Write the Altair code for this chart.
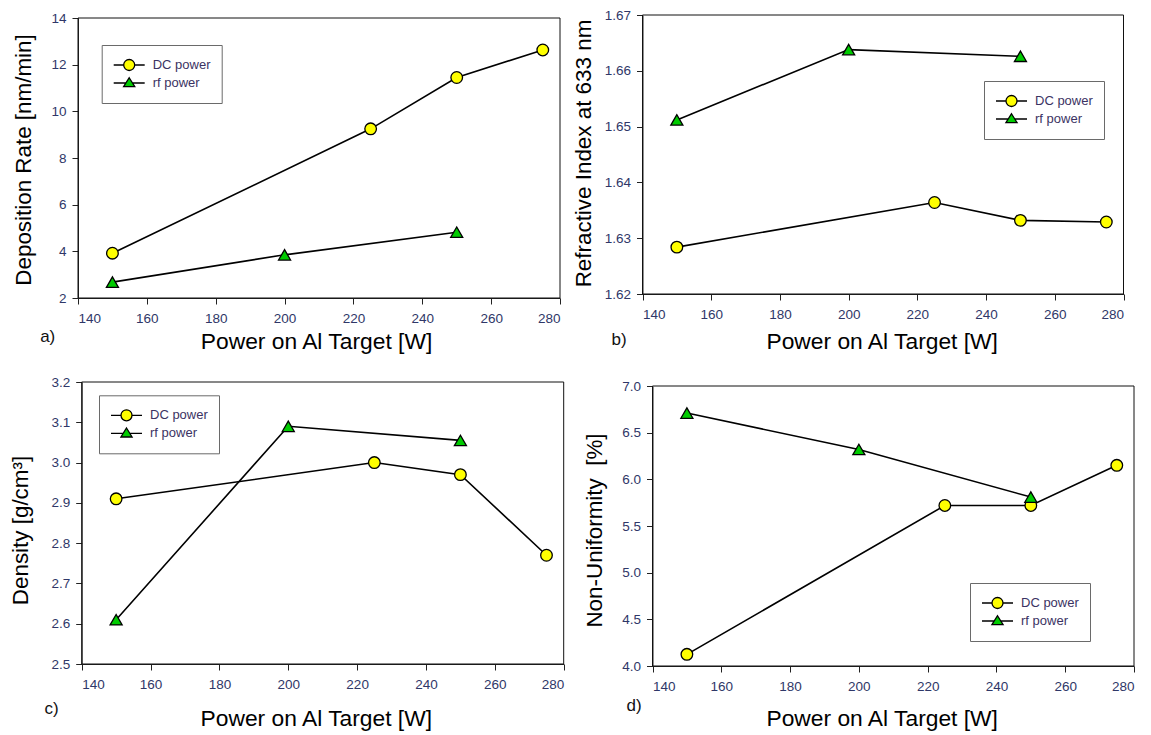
import altair as alt
import pandas as pd

FONT = "Liberation Sans"

SERIES = ["DC power", "rf power"]
POWER_DC = [150, 225, 250, 275]
POWER_RF = [150, 200, 250]
X_TICKS = [140, 160, 180, 200, 220, 240, 260, 280]
X_TITLE = "Power on Al Target [W]"

RATE_DC = [3.92, 9.25, 11.45, 12.63]
RATE_RF = [2.68, 3.85, 4.82]
RATE_TICKS = [2, 4, 6, 8, 10, 12, 14]

RI_DC = [1.6284, 1.6364, 1.6332, 1.6329]
RI_RF = [1.6512, 1.6638, 1.6626]
RI_TICKS = [1.62, 1.63, 1.64, 1.65, 1.66, 1.67]

DENS_DC = [2.91, 3.00, 2.97, 2.77]
DENS_RF = [2.61, 3.09, 3.055]
DENS_TICKS = [2.5, 2.6, 2.7, 2.8, 2.9, 3.0, 3.1, 3.2]

NU_DC = [4.125, 5.72, 5.72, 6.15]
NU_RF = [6.71, 6.32, 5.81]
NU_TICKS = [4.0, 4.5, 5.0, 5.5, 6.0, 6.5, 7.0]

# cell size of the grid (plot area is placed inside each cell)
W, H = 500, 292

# legend symbols: a line with the marker on it (units -1..1)
CIRC = "M-1,0L-0.355,0M0.355,0L1,0M-0.355,0A0.355,0.355,0,1,1,0.355,0A0.355,0.355,0,1,1,-0.355,0Z"
TRI = "M-1,0L-0.211,0M0.211,0L1,0M0,-0.34L0.36,0.24L-0.36,0.24Z"

YELLOW = "#ffff00"
GREEN = "#00cc00"
TICK_COLOR = "#2f3768"
XTITLE_SIZE = 22.8
YTITLE_SIZE = 22.4


def panel(dc, rf, yticks, yfmt, ytitle, geo, ytitle_pos, xtitle_pos, leg_pos, lab, lab_pos):
    ox, oy, w, h = geo
    df = pd.DataFrame({
        "power": POWER_DC + POWER_RF,
        "value": dc + rf,
        "series": [SERIES[0]] * len(dc) + [SERIES[1]] * len(rf),
    })
    frame_df = pd.DataFrame({
        "power": [X_TICKS[0]], "power2": [X_TICKS[-1]],
        "value": [yticks[0]], "value2": [yticks[-1]],
    })
    x = alt.X(
        "power:Q",
        scale=alt.Scale(domain=[X_TICKS[0], X_TICKS[-1]], range=[ox, ox + w], nice=False, zero=False),
        axis=alt.Axis(
            orient="bottom", offset=(oy + h) - H, values=X_TICKS, format="d", grid=False,
            domainColor="#222222", tickColor="#222222", tickSize=6, labelPadding=7,
            labelFont=FONT, labelFontSize=13.5, labelColor=TICK_COLOR, labelOverlap=False,
            title=X_TITLE, titleFont=FONT, titleFontSize=XTITLE_SIZE, titleFontWeight="normal",
            titleColor="black", titleX=xtitle_pos[0], titleY=xtitle_pos[1],
            titleBaseline="alphabetic",
        ),
    )
    y = alt.Y(
        "value:Q",
        scale=alt.Scale(domain=[yticks[0], yticks[-1]], range=[oy + h, oy], nice=False, zero=False),
        axis=alt.Axis(
            orient="left", offset=-ox, values=yticks, format=yfmt, grid=False,
            domainColor="#222222", tickColor="#222222", tickSize=6, labelPadding=6,
            labelFont=FONT, labelFontSize=13.5, labelColor=TICK_COLOR, labelOverlap=False,
            title=ytitle, titleFont=FONT, titleFontSize=YTITLE_SIZE, titleFontWeight="normal",
            titleColor="black", titleX=ytitle_pos[0], titleY=ytitle_pos[1],
            titleBaseline="alphabetic", titleAngle=270,
        ),
    )
    base = alt.Chart(df).encode(x=x, y=y)

    frame = alt.Chart(frame_df).mark_rect(fill="transparent", stroke="#111111", strokeWidth=1).encode(
        x=x, y=y, x2="power2:Q", y2="value2:Q"
    )
    lines = base.mark_line(color="black", strokeWidth=1.6).encode(detail="series:N")
    dc_pts = base.transform_filter(alt.datum.series == SERIES[0]).mark_point(
        shape="circle", filled=True, fill=YELLOW, stroke="black", strokeWidth=1.3, size=135, opacity=1
    )
    rf_pts = base.transform_filter(alt.datum.series == SERIES[1]).mark_point(
        shape="triangle-up", filled=True, fill=GREEN, stroke="black", strokeWidth=1.3, size=145, opacity=1
    )
    legend = alt.Legend(
        title=None, orient="none", legendX=leg_pos[0], legendY=leg_pos[1], direction="vertical",
        strokeColor="#6a6a6a", fillColor="white", padding=11, cornerRadius=0,
        symbolSize=961, symbolStrokeColor="black", symbolStrokeWidth=1.3, symbolOpacity=1,
        labelFont=FONT, labelFontSize=13, labelColor="#3b3363", labelOffset=7,
        clipHeight=18, rowPadding=0, symbolOffset=0,
    )
    leg = base.transform_filter("false").mark_point(
        filled=True, strokeWidth=1.3, opacity=1
    ).encode(
        shape=alt.Shape("series:N", scale=alt.Scale(domain=SERIES, range=[CIRC, TRI]), legend=legend),
        fill=alt.Fill("series:N", scale=alt.Scale(domain=SERIES, range=[YELLOW, GREEN]), legend=legend),
        stroke=alt.Stroke("series:N", scale=alt.Scale(domain=SERIES, range=["#000000", "#000000"]), legend=legend),
    )
    label = alt.Chart(pd.DataFrame({"t": [lab]})).mark_text(
        font=FONT, fontSize=17, color="#111111", align="center", baseline="middle"
    ).encode(text="t:N", x=alt.value(lab_pos[0]), y=alt.value(lab_pos[1]))

    return alt.layer(frame, lines, dc_pts, rf_pts, leg, label).properties(width=W, height=H)


pa = panel(RATE_DC, RATE_RF, RATE_TICKS, "d", "Deposition Rate [nm/min]",
           (1, 5, 482, 280), (-48, 146.5), (239, 50.5), (24.7, 32), "a)", (-29.3, 324))
pb = panel(RI_DC, RI_RF, RI_TICKS, ".2f", "Refractive Index at 633 nm",
           (1.5, 2, 481, 279), (-52, 140), (240.7, 54), (343, 68), "b)", (-22, 327))
pc = panel(DENS_DC, DENS_RF, DENS_TICKS, ".1f", "Density [g/cm\u00b3]",
           (4.7, 2, 482, 282), (-53.7, 150), (238.8, 61), (22, 15.3), "c)", (-25.5, 329))
pd_ = panel(NU_DC, NU_RF, NU_TICKS, ".1f", "Non-Uniformity \u00a0[%]",
            (11.5, 6, 481.5, 280), (-51, 150), (240.7, 59), (329, 203), "d)", (-7, 326))

chart = alt.concat(
    pa, pb, pc, pd_, columns=2, spacing={"row": 75, "column": 64}, bounds="flush"
).resolve_scale(
    shape="independent", fill="independent", stroke="independent"
).properties(
    padding={"left": 9, "top": 7, "right": 2, "bottom": 0}, background="white"
).configure_view(stroke="transparent")

chart.save("out.html", embed_options={"renderer": "svg", "actions": False})
